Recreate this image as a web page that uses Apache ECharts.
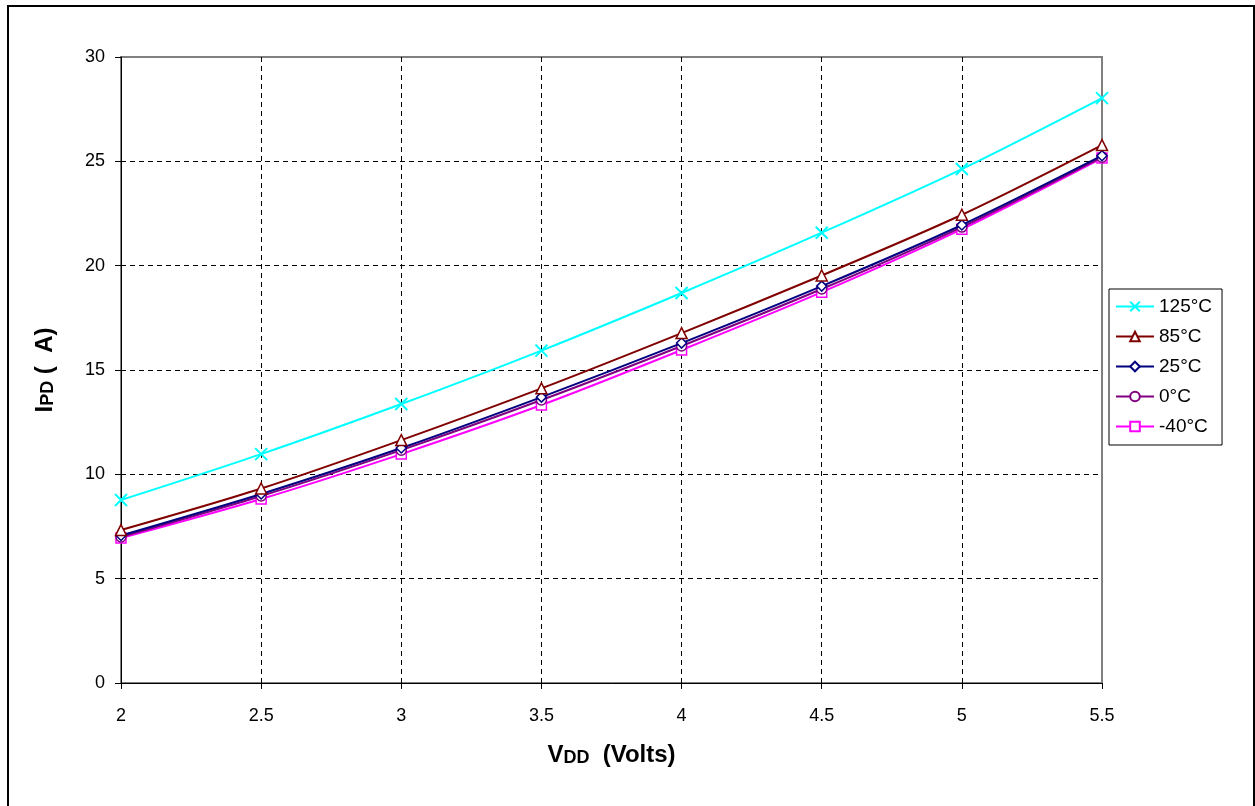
<!DOCTYPE html>
<html>
<head>
<meta charset="utf-8">
<script src="https://cdn.jsdelivr.net/npm/echarts@6/dist/echarts.min.js"></script>
<style>
html,body{margin:0;padding:0;background:#fff;}
#chart{width:1255px;height:806px;}
</style>
</head>
<body>
<div id="chart"></div>
<script>
const vdd = [2, 2.5, 3, 3.5, 4, 4.5, 5, 5.5];
const t125 = [8.77, 10.97, 13.37, 15.93, 18.69, 21.58, 24.63, 28.03];
const t85  = [7.33, 9.32, 11.64, 14.12, 16.77, 19.53, 22.44, 25.78];
const t25  = [7.07, 9.06, 11.26, 13.70, 16.29, 19.02, 21.95, 25.27];
const t0   = [7.00, 8.96, 11.16, 13.56, 16.15, 18.88, 21.85, 25.20];
const tm40 = [6.95, 8.82, 10.97, 13.32, 15.96, 18.73, 21.75, 25.16];
const seriesNames = ['125°C', '85°C', '25°C', '0°C', '-40°C'];
const yTicks = [0, 5, 10, 15, 20, 25, 30];
const xTicks = ['2', '2.5', '3', '3.5', '4', '4.5', '5', '5.5'];

const font = 'Liberation Sans, Arial, sans-serif';
const seriesData = [t125, t85, t25, t0, tm40];
const colors = ['#00FFFF', '#800000', '#000080', '#800080', '#FF00FF'];
const symbols = ['path://M0,0L10,10M10,0L0,10', 'triangle', 'diamond', 'circle', 'rect'];
const sizes = [12, 11, 10, 10, 10];

const chart = echarts.init(document.getElementById('chart'), null, {renderer: 'canvas'});
chart.setOption({
  animation: false,
  backgroundColor: '#fff',
  textStyle: {fontFamily: font},
  graphic: [{
    type: 'rect', silent: true, z: 100,
    shape: {x: 8, y: 6, width: 1246, height: 820},
    style: {fill: 'none', stroke: '#000', lineWidth: 2}
  }],
  grid: {
    left: 121, right: 153, top: 57, bottom: 123,
    show: true, borderColor: '#808080', borderWidth: 2, backgroundColor: 'transparent'
  },
  legend: {
    orient: 'vertical',
    left: 1109, top: 289,
    borderColor: '#000', borderWidth: 1,
    padding: [8, 10, 9, 6],
    itemWidth: 38, itemHeight: 12, itemGap: 11,
    textStyle: {fontSize: 19, color: '#000', fontFamily: font},
    data: seriesNames
  },
  xAxis: {
    type: 'value', min: 2, max: 5.5, interval: 0.5,
    name: '{b|V}{s|DD}{b|  (Volts)}',
    nameLocation: 'middle', nameGap: 60,
    nameTextStyle: {
      rich: {
        b: {fontSize: 24, fontWeight: 'bold', color: '#000', fontFamily: font, verticalAlign: 'bottom'},
        s: {fontSize: 18, fontWeight: 'bold', color: '#000', fontFamily: font, verticalAlign: 'bottom'}
      }
    },
    axisLine: {show: true, lineStyle: {color: '#000', width: 1}},
    axisTick: {show: true, length: 6, lineStyle: {color: '#000'}},
    axisLabel: {margin: 24, fontSize: 18, color: '#000', fontFamily: font,
      formatter: (v) => xTicks[Math.round((v - 2) / 0.5)] ?? ''},
    splitLine: {show: true, showMinLine: false, showMaxLine: false, lineStyle: {color: '#000', type: [5, 4], width: 1}}
  },
  yAxis: {
    type: 'value', min: 0, max: 30, interval: 5,
    name: '{b|I}{s|PD}{b| (  A)}',
    nameLocation: 'middle', nameGap: 64,
    nameTextStyle: {
      rich: {
        b: {fontSize: 24, fontWeight: 'bold', color: '#000', fontFamily: font, verticalAlign: 'bottom'},
        s: {fontSize: 18, fontWeight: 'bold', color: '#000', fontFamily: font, verticalAlign: 'bottom'}
      }
    },
    axisLine: {show: true, lineStyle: {color: '#000', width: 1}},
    axisTick: {show: true, length: 6, lineStyle: {color: '#000'}},
    axisLabel: {margin: 16, fontSize: 18, color: '#000', fontFamily: font,
      formatter: (v) => yTicks.includes(v) ? String(v) : ''},
    splitLine: {show: true, showMinLine: false, showMaxLine: false, lineStyle: {color: '#000', type: [5, 4], width: 1}}
  },
  series: seriesNames.map((n, i) => ({
    name: n,
    type: 'line',
    smooth: 0.3,
    data: vdd.map((x, j) => [x, seriesData[i][j]]),
    symbol: symbols[i],
    symbolSize: sizes[i],
    showAllSymbol: true,
    z: 10 - i,
    lineStyle: {color: colors[i], width: 2},
    itemStyle: i === 0
      ? {color: colors[i], borderColor: colors[i], borderWidth: 2}
      : {color: '#fff', borderColor: colors[i], borderWidth: 1.5},
    emphasis: {disabled: true}
  }))
});
</script>
</body>
</html>
